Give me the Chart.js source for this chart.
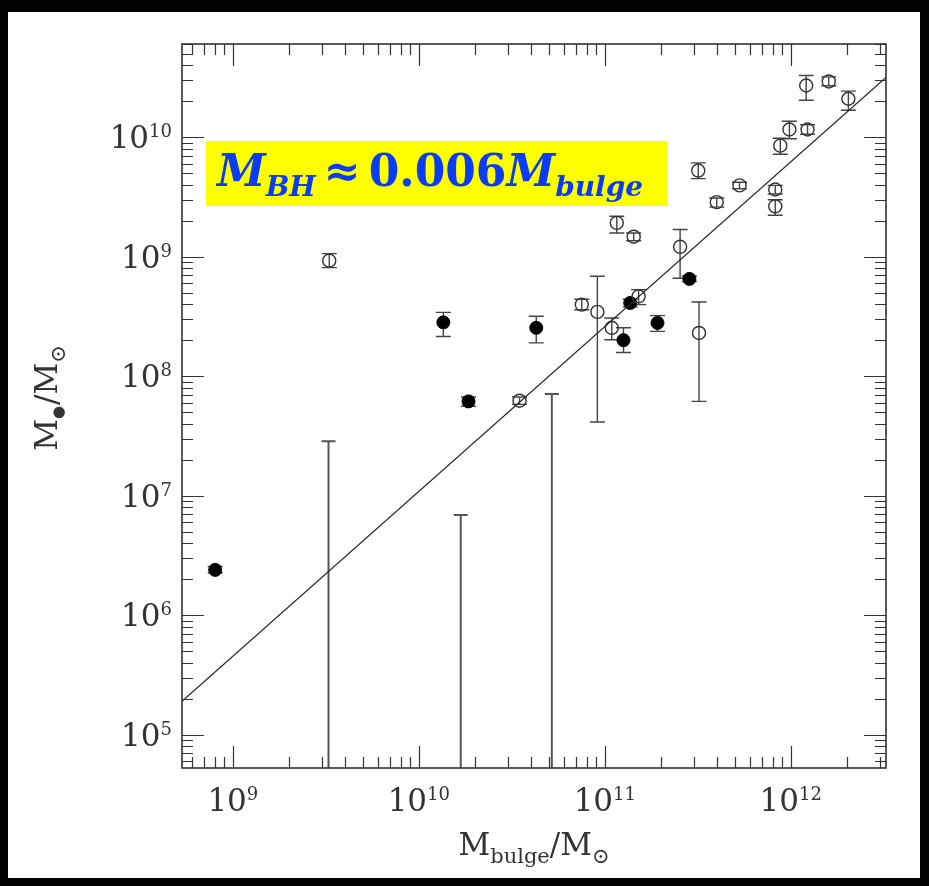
<!DOCTYPE html>
<html>
<head>
<meta charset="utf-8">
<script src="https://cdn.jsdelivr.net/npm/chart.js@4.4.1/dist/chart.umd.min.js"></script>
<style>
  html, body { margin: 0; padding: 0; background: #000; }
  #wrap { position: absolute; left: 8px; top: 12px; width: 912px; height: 866px; background: #fff; }
</style>
</head>
<body>
<div id="wrap"><canvas id="chart"></canvas></div>
<script>
// open circles: bulge mass, BH mass, error bar low / high
var openX  = [3.3e9, 3.48e10, 7.52e10, 9.12e10, 1.09e11, 1.16e11, 1.43e11, 1.52e11, 2.54e11, 3.18e11, 3.21e11,
              4.0e11, 5.3e11, 8.25e11, 8.25e11, 8.78e11, 9.83e11, 1.23e12, 1.21e12, 1.6e12, 2.04e12];
var openY  = [9.27e8, 6.23e7, 3.97e8, 3.45e8, 2.54e8, 1.92e9, 1.47e9, 4.66e8, 1.21e9, 5.26e9, 2.3e8,
              2.86e9, 3.95e9, 3.65e9, 2.64e9, 8.5e9, 1.16e10, 1.16e10, 2.71e10, 2.93e10, 2.1e10];
var openLo = [8.1e8, 5.8e7, 3.6e8, 4.13e7, 2.02e8, 1.58e9, 1.36e9, 3.97e8, 6.6e8, 4.5e9, 6.15e7,
              2.6e9, 3.7e9, 3.35e9, 2.22e9, 7.2e9, 9.7e9, 1.06e10, 2.04e10, 2.7e10, 1.68e10];
var openHi = [1.06e9, 6.7e7, 4.4e8, 6.86e8, 3.07e8, 2.18e9, 1.58e9, 5.3e8, 1.69e9, 6.1e9, 4.18e8,
              3.1e9, 4.2e9, 3.95e9, 3.0e9, 9.8e9, 1.36e10, 1.27e10, 3.29e10, 3.2e10, 2.43e10];

// filled circles
var filledX  = [8.04e8, 1.355e10, 1.85e10, 4.28e10, 1.26e11, 1.37e11, 1.92e11, 2.85e11];
var filledY  = [2.39e6, 2.82e8, 6.15e7, 2.54e8, 2.0e8, 4.1e8, 2.79e8, 6.52e8];
var filledLo = [2.25e6, 2.15e8, 5.6e7, 1.9e8, 1.58e8, 3.8e8, 2.37e8, 6.2e8];
var filledHi = [2.55e6, 3.42e8, 6.7e7, 3.17e8, 2.54e8, 4.4e8, 3.21e8, 6.9e8];

// upper limits (bar from the axis up to the cap)
var limitX = [3.27e9, 1.68e10, 5.19e10];
var limitY = [2.85e7, 6.9e6, 7.1e7];

// fitted relation, end points at the frame
var fitX = [5.33e8, 3.25e12];
var fitY = [1.9e5, 3.16e10];

// tick labels: mantissa "10" plus exponent
var xMajor = [1e9, 1e10, 1e11, 1e12];
var xTickExp = ['9', '10', '11', '12'];
var yMajor = [1e5, 1e6, 1e7, 1e8, 1e9, 1e10];
var yTickExp = ['5', '6', '7', '8', '9', '10'];

function pts(xs, ys) {
  var out = [];
  for (var i = 0; i < xs.length; i++) out.push({x: xs[i], y: ys[i]});
  return out;
}

function logTicks(min, max) {
  var out = [];
  for (var d = Math.floor(Math.log10(min)); d <= Math.floor(Math.log10(max)); d++) {
    for (var m = 1; m <= 9; m++) {
      var v = m * Math.pow(10, d);
      if (v >= min && v <= max) out.push({value: v});
    }
  }
  return out;
}

var frameTicks = {
  id: 'frameTicks',
  afterDatasetsDraw: function (chart) {
    var ctx = chart.ctx, a = chart.chartArea;
    var xs = chart.scales.x, ys = chart.scales.y;
    ctx.save();
    ctx.strokeStyle = '#333';
    ctx.lineWidth = 1.2;
    ctx.beginPath();
    xs.ticks.forEach(function (t) {
      var p = Math.round(xs.getPixelForValue(t.value)) + 0.5;
      var len = xMajor.indexOf(t.value) >= 0 ? 22 : 11;
      ctx.moveTo(p, a.bottom); ctx.lineTo(p, a.bottom - len);
      ctx.moveTo(p, a.top); ctx.lineTo(p, a.top + len);
    });
    ys.ticks.forEach(function (t) {
      var p = Math.round(ys.getPixelForValue(t.value)) + 0.5;
      var len = yMajor.indexOf(t.value) >= 0 ? 22 : 11;
      ctx.moveTo(a.left, p); ctx.lineTo(a.left + len, p);
      ctx.moveTo(a.right, p); ctx.lineTo(a.right - len, p);
    });
    ctx.stroke();
    ctx.lineWidth = 1.6;
    ctx.strokeRect(a.left, a.top, a.right - a.left, a.bottom - a.top);

    // power-of-ten labels
    var main = '31px "DejaVu Serif"', sup = '18px "DejaVu Serif"';
    ctx.fillStyle = '#333';
    ctx.textBaseline = 'alphabetic';
    xMajor.forEach(function (v, i) {
      var p = xs.getPixelForValue(v);
      ctx.font = main; var w1 = ctx.measureText('10').width;
      ctx.font = sup; var w2 = ctx.measureText(xTickExp[i]).width;
      var x0 = p - (w1 + w2) / 2;
      ctx.font = main; ctx.fillText('10', x0, a.bottom + 43);
      ctx.font = sup; ctx.fillText(xTickExp[i], x0 + w1, a.bottom + 32);
    });
    yMajor.forEach(function (v, i) {
      var p = ys.getPixelForValue(v);
      ctx.font = main; var w1 = ctx.measureText('10').width;
      ctx.font = sup; var w2 = ctx.measureText(yTickExp[i]).width;
      var x0 = a.left - 10 - w1 - w2;
      ctx.font = main; ctx.fillText('10', x0, p + 11);
      ctx.font = sup; ctx.fillText(yTickExp[i], x0 + w1, p);
    });
    ctx.restore();
  }
};

var errorBars = {
  id: 'errorBars',
  beforeDatasetsDraw: function (chart) {
    var ctx = chart.ctx, a = chart.chartArea;
    var xs = chart.scales.x, ys = chart.scales.y;
    ctx.save();
    ctx.beginPath();
    ctx.rect(a.left, a.top, a.right - a.left, a.bottom - a.top);
    ctx.clip();
    function bar(x, lo, hi, cap) {
      var px = xs.getPixelForValue(x);
      var p1 = ys.getPixelForValue(lo), p2 = ys.getPixelForValue(hi);
      ctx.beginPath();
      ctx.moveTo(px, p1); ctx.lineTo(px, p2);
      ctx.moveTo(px - cap, p1); ctx.lineTo(px + cap, p1);
      ctx.moveTo(px - cap, p2); ctx.lineTo(px + cap, p2);
      ctx.stroke();
    }
    ctx.strokeStyle = '#444';
    ctx.lineWidth = 1.4;
    openX.forEach(function (v, i) { bar(v, openLo[i], openHi[i], 7.5); });
    filledX.forEach(function (v, i) { bar(v, filledLo[i], filledHi[i], 7.5); });
    ctx.strokeStyle = '#555';
    ctx.lineWidth = 2;
    limitX.forEach(function (v, i) {
      var px = xs.getPixelForValue(v);
      var top = ys.getPixelForValue(limitY[i]);
      ctx.beginPath();
      ctx.moveTo(px, a.bottom); ctx.lineTo(px, top);
      ctx.moveTo(px - 7, top); ctx.lineTo(px + 7, top);
      ctx.stroke();
    });
    ctx.restore();
  }
};

function runs(ctx, x, y, parts) {
  parts.forEach(function (p) {
    ctx.font = p.font;
    ctx.fillText(p.text, x, y + (p.dy || 0));
    x += ctx.measureText(p.text).width + (p.gap || 0);
  });
  return x;
}
function runsWidth(ctx, parts) {
  var w = 0;
  parts.forEach(function (p) { ctx.font = p.font; w += ctx.measureText(p.text).width + (p.gap || 0); });
  return w;
}

var labels = {
  id: 'labels',
  afterDraw: function (chart) {
    var ctx = chart.ctx, a = chart.chartArea;
    ctx.save();
    // axis titles
    ctx.fillStyle = '#333';
    ctx.textBaseline = 'alphabetic';
    var big = '31px "DejaVu Serif"', small = '21px "DejaVu Serif"', dot = '15px "DejaVu Serif"';
    var xt = [
      {text: 'M', font: big},
      {text: 'bulge', font: small, dy: 8},
      {text: '/M', font: big},
      {text: '⊙', font: small, dy: 8}
    ];
    var w = runsWidth(ctx, xt);
    runs(ctx, (a.left + a.right) / 2 - w / 2, 843, xt);
    var yt = [
      {text: 'M', font: big},
      {text: '●', font: dot, dy: 6, gap: 1},
      {text: '/M', font: big},
      {text: '⊙', font: small, dy: 8}
    ];
    w = runsWidth(ctx, yt);
    ctx.translate(49, (a.top + a.bottom) / 2 - 8);
    ctx.rotate(-Math.PI / 2);
    runs(ctx, -w / 2, 0, yt);
    ctx.restore();

    // relation box
    ctx.save();
    ctx.fillStyle = '#ffff00';
    ctx.fillRect(a.left + 24, a.top + 97, 461, 65);
    ctx.fillStyle = '#0a3cf5';
    var bi = 'italic bold 44px "DejaVu Serif"', bis = 'italic bold 28px "DejaVu Serif"', b = 'bold 44px "DejaVu Serif"';
    runs(ctx, a.left + 35, a.top + 142, [
      {text: 'M', font: bi},
      {text: 'BH', font: bis, dy: 10, gap: 8},
      {text: '≈', font: b, gap: 8},
      {text: '0.006', font: b},
      {text: 'M', font: bi},
      {text: 'bulge', font: bis, dy: 10}
    ]);
    ctx.restore();
  }
};

new Chart(document.getElementById('chart'), {
  type: 'scatter',
  data: {
    datasets: [
      {
        label: 'fit',
        type: 'line',
        data: pts(fitX, fitY),
        borderColor: '#222',
        borderWidth: 1.2,
        pointRadius: 0,
        fill: false
      },
      {
        label: 'open',
        data: pts(openX, openY),
        pointStyle: 'circle',
        pointRadius: 6.5,
        borderWidth: 1.4,
        borderColor: '#333',
        backgroundColor: 'rgba(0,0,0,0)'
      },
      {
        label: 'filled',
        data: pts(filledX, filledY),
        pointStyle: 'circle',
        pointRadius: 6.5,
        borderWidth: 1,
        borderColor: '#000',
        backgroundColor: '#000'
      }
    ]
  },
  options: {
    responsive: true,
    maintainAspectRatio: false,
    animation: false,
    events: [],
    layout: { padding: { left: 0, top: 32, right: 34, bottom: 0 } },
    plugins: { legend: { display: false }, tooltip: { enabled: false } },
    scales: {
      x: {
        type: 'logarithmic',
        min: 5.33e8,
        max: 3.25e12,
        grid: { display: false },
        border: { display: false },
        ticks: { display: false },
        afterBuildTicks: function (scale) { scale.ticks = logTicks(scale.min, scale.max); },
        afterFit: function (scale) { scale.height = 110; }
      },
      y: {
        type: 'logarithmic',
        min: 5.25e4,
        max: 6.03e10,
        grid: { display: false },
        border: { display: false },
        ticks: { display: false },
        afterBuildTicks: function (scale) { scale.ticks = logTicks(scale.min, scale.max); },
        afterFit: function (scale) { scale.width = 174; }
      }
    }
  },
  plugins: [errorBars, frameTicks, labels]
});
</script>
</body>
</html>
